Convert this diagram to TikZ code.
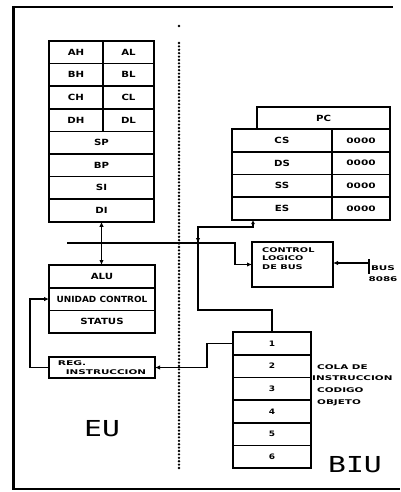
\documentclass[tikz,border=0pt]{standalone}
\usepackage{fontspec}
\usepackage{graphicx}
\setmainfont{DejaVu Sans}
\newfontfamily\bigfont{DejaVu Sans Mono}
\usetikzlibrary{arrows.meta}
\newcommand{\xw}[2][1.2]{\scalebox{#1}[1]{#2}}
\begin{document}
\begin{tikzpicture}[x=1pt,y=-1pt,
  box/.style={draw, line width=1.6pt, inner sep=0pt, outer sep=0pt, anchor=north west,
    font=\fontsize{8.5}{10}\selectfont\bfseries},
  conn/.style={line width=1.4pt},
  tip/.style={-{Latex[length=5pt,width=4.5pt]}},
  small/.style={inner sep=0pt, font=\fontsize{6.5}{8.5}\selectfont\bfseries, align=left},
  valfont/.style={font=\fontsize{7.5}{9}\selectfont\bfseries},
  big/.style={inner sep=0pt, font=\bigfont\fontsize{22}{24}\selectfont},
]
\useasboundingbox (0,0) rectangle (400,492);
% frame
\draw[line width=3pt] (13,6) -- (13,490);
\draw[line width=2pt] (12,7) -- (393,7);
\draw[line width=1.5pt] (12,489) -- (400,489);
% dotted divider
\fill (179,26) circle (1.3pt);
\draw[line width=2.6pt, line cap=round, dash pattern=on 0pt off 3.4pt] (179,43) -- (179,468);

% EU registers
\node[box, minimum width=54pt, minimum height=22.6pt] (ah) at (49,41) {\xw{AH}};
\node[box, minimum width=51pt, minimum height=22.6pt] (al) at (103,41) {\xw{AL}};
\node[box, minimum width=54pt, minimum height=22.6pt] (bh) at (49,63.6) {\xw{BH}};
\node[box, minimum width=51pt, minimum height=22.6pt] (bl) at (103,63.6) {\xw{BL}};
\node[box, minimum width=54pt, minimum height=22.6pt] (ch) at (49,86.2) {\xw{CH}};
\node[box, minimum width=51pt, minimum height=22.6pt] (cl) at (103,86.2) {\xw{CL}};
\node[box, minimum width=54pt, minimum height=22.6pt] (dh) at (49,108.8) {\xw{DH}};
\node[box, minimum width=51pt, minimum height=22.6pt] (dl) at (103,108.8) {\xw{DL}};
\node[box, minimum width=105pt, minimum height=22.6pt] (sp) at (49,131.4) {\xw{SP}};
\node[box, minimum width=105pt, minimum height=22.6pt] (bp) at (49,154) {\xw{BP}};
\node[box, minimum width=105pt, minimum height=22.6pt] (si) at (49,176.6) {\xw{SI}};
\node[box, minimum width=105pt, minimum height=22.6pt] (di) at (49,199.2) {\xw{DI}};

% ALU block
\node[box, minimum width=106pt, minimum height=22.7pt] (alu) at (49,265) {\xw{ALU}};
\node[box, minimum width=106pt, minimum height=22.7pt] (uc) at (49,287.7) {\xw[1.05]{UNIDAD CONTROL}};
\node[box, minimum width=106pt, minimum height=22.7pt] (st) at (49,310.4) {\xw{STATUS}};
\node[box, minimum width=106pt, minimum height=21pt, font=\fontsize{6.5}{9.5}\selectfont\bfseries, align=left] (reg) at (49,357)
  {\xw[1.65]{REG.}\\\hspace*{8pt}\xw[1.6]{INSTRUCCION}};

% segment registers
\node[box, minimum width=133pt, minimum height=22pt] (pc) at (257,107) {\xw{PC}};
\node[box, minimum width=100pt, minimum height=22.75pt] (cs) at (232,129) {\xw{CS}};
\node[box, valfont, minimum width=58pt, minimum height=22.75pt] (csv) at (332,129) {\xw[1.4]{0000}};
\node[box, minimum width=100pt, minimum height=22.75pt] (ds) at (232,151.75) {\xw{DS}};
\node[box, valfont, minimum width=58pt, minimum height=22.75pt] (dsv) at (332,151.75) {\xw[1.4]{0000}};
\node[box, minimum width=100pt, minimum height=22.75pt] (ss) at (232,174.5) {\xw{SS}};
\node[box, valfont, minimum width=58pt, minimum height=22.75pt] (ssv) at (332,174.5) {\xw[1.4]{0000}};
\node[box, minimum width=100pt, minimum height=22.75pt] (es) at (232,197.25) {\xw{ES}};
\node[box, valfont, minimum width=58pt, minimum height=22.75pt] (esv) at (332,197.25) {\xw[1.4]{0000}};

% bus control
\node[box, minimum width=81pt, minimum height=45pt] (ctrl) at (252,242) {};
\node[small, anchor=north west] (ctrltxt) at (262,247)
  {\xw[1.5]{CONTROL}\\\xw[1.5]{LOGICO}\\\xw[1.5]{DE BUS}};
\node[small, align=center, font=\fontsize{6.5}{11}\selectfont\bfseries] (bus) at (383,274)
  {\xw[1.6]{BUS}\\\xw[1.6]{8086}};

% instruction queue
\node[box, valfont, minimum width=78pt, minimum height=22.7pt] (q1) at (233,332) {\xw{1}};
\node[box, valfont, minimum width=78pt, minimum height=22.7pt] (q2) at (233,354.7) {\xw{2}};
\node[box, valfont, minimum width=78pt, minimum height=22.7pt] (q3) at (233,377.4) {\xw{3}};
\node[box, valfont, minimum width=78pt, minimum height=22.7pt] (q4) at (233,400.1) {\xw{4}};
\node[box, valfont, minimum width=78pt, minimum height=22.7pt] (q5) at (233,422.8) {\xw{5}};
\node[box, valfont, minimum width=78pt, minimum height=22.7pt] (q6) at (233,445.5) {\xw{6}};
\node[small, anchor=north west, font=\fontsize{6.5}{11.7}\selectfont\bfseries] (cola) at (317,364)
  {\xw[1.6]{COLA DE}\\\hspace*{-5pt}\xw[1.6]{INSTRUCCION}\\\xw[1.6]{CODIGO}\\\xw[1.6]{OBJETO}};

% big labels
\node[big] (eu) at (102,429) {\xw[1.35]{EU}};
\node[big] (biu) at (355,465) {\xw[1.35]{BIU}};

% connectors
\draw[conn, {Latex[length=5pt,width=4.5pt]}-{Latex[length=5pt,width=4.5pt]}] (di.south) -- (di.south |- alu.north);
\coordinate (busL) at (67,243);
\coordinate (cross) at (198,243);
\draw[conn, tip] (busL) -- (235,243) |- (ctrl.west);
\coordinate (segout) at ([xshift=21pt]es.south west);
\draw[conn, {Latex[length=4pt,width=4pt]}-] (segout) |- (198,227) -- (198,310) -| (q1.north);
\draw[conn, tip] (198,231) -- (cross);
\draw[conn, tip] (q1.west) -- ++(-26,0) |- (reg.east);
\draw[conn, tip] (reg.west) -- ++(-19,0) |- (uc.west);
\coordinate (busin) at (369,263);
\draw[conn, tip] (busin) -- (busin -| ctrl.east);
\draw[conn] (369,259) -- (369,274);
\end{tikzpicture}
\end{document}
